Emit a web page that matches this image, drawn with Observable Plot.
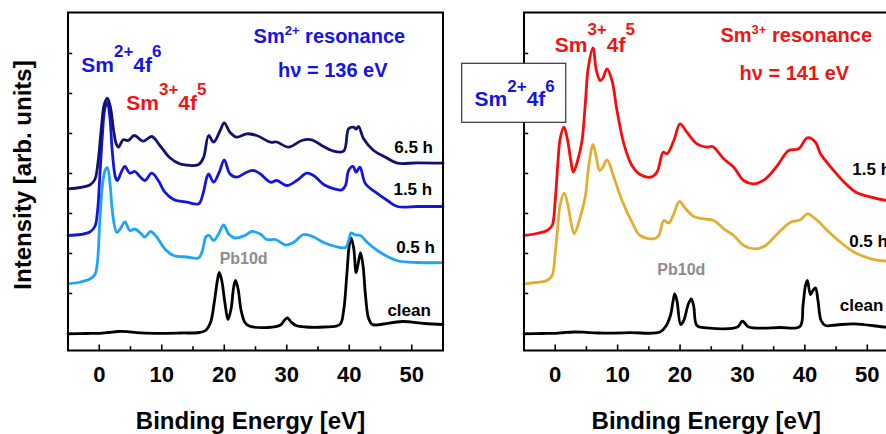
<!DOCTYPE html>
<html>
<head>
<meta charset="utf-8">
<script src="https://cdn.jsdelivr.net/npm/d3@7"></script>
<script src="https://cdn.jsdelivr.net/npm/@observablehq/plot@0.6"></script>
<style>
  body { margin: 0; overflow: hidden; background: #fff; }
  #fig { position: relative; width: 886px; height: 434px; overflow: hidden;
         font-family: "Liberation Sans", Arial, sans-serif; }
  #fig svg { position: absolute; top: 0; }
</style>
</head>
<body>
<div id="fig"></div>
<script>
// Valence-band photoemission of Sm on Pb: binding energy [eV] vs intensity (arb. units, stacked)
const xDomain = [-5, 55];
const yDomain = [0, 33.8];
const xMajor = [0, 10, 20, 30, 40, 50];
const xMinor = [5, 15, 25, 35, 45];
const yTicks = [1.7, 5.7, 9.7, 13.7, 17.7, 21.7, 25.7, 29.7];

// Sm2+ resonance, hv = 136 eV
const left_clean = [[-5,1.67],[-2,1.7],[0,1.72],[1.5,1.8],[3,1.9],[4.5,1.88],[6,1.78],[9,1.72],[13,1.75],[16,1.8],[17,2.0],[17.8,2.8],[18.4,4.8],[18.9,7.0],[19.2,7.8],[19.6,7.0],[20.1,4.8],[20.6,3.1],[21.1,4.2],[21.5,6.3],[21.8,7.0],[22.2,6.2],[22.7,4.0],[23.3,2.8],[24,2.45],[27,2.3],[29,2.55],[29.6,3.0],[30.1,3.25],[30.7,2.85],[31.5,2.5],[33,2.35],[36,2.35],[38.5,2.6],[39.1,4.0],[39.6,7.5],[40.0,10.5],[40.3,11.25],[40.7,10.3],[41.1,7.8],[41.4,8.6],[41.8,9.75],[42.2,8.5],[42.6,5.5],[43.1,3.2],[43.7,2.6],[45,2.6],[48.5,2.9],[52,2.7],[55,2.6]];
const left_05h = [[-5,6.67],[-3,6.85],[-1.5,7.15],[-0.7,7.6],[-0.3,8.8],[0.1,13.0],[0.6,17.0],[1.0,18.1],[1.3,18.3],[1.7,16.8],[2.2,13.4],[2.8,11.8],[3.4,12.2],[4.1,12.85],[4.9,12.0],[5.7,12.15],[6.5,11.8],[7.3,11.35],[8.2,11.9],[9.2,11.35],[10.5,10.15],[11.9,9.5],[14.0,9.35],[15.9,9.25],[16.5,10.0],[17.1,11.4],[17.6,11.5],[18.3,11.0],[19.1,11.65],[19.9,12.55],[20.7,11.65],[21.7,11.25],[23.3,11.5],[24.4,11.9],[25.75,11.65],[26.8,11.1],[28.2,11.1],[29.8,10.55],[31.1,10.8],[32.7,11.6],[34.3,11.35],[35.9,10.8],[37.5,10.45],[39.4,10.3],[39.9,11.0],[40.3,11.75],[41.0,11.55],[41.8,11.5],[42.9,10.8],[44.5,10.0],[46.1,9.4],[47.9,8.95],[50.9,8.8],[55,8.78]];
const left_15h = [[-5,11.5],[-3,11.6],[-1.5,11.85],[-0.7,12.4],[-0.3,13.8],[0.1,17.5],[0.5,21.5],[0.9,24.2],[1.3,24.8],[1.7,23.3],[2.1,19.8],[2.6,17.3],[2.9,17.0],[3.5,17.8],[4.1,18.4],[4.9,17.73],[5.7,17.9],[6.5,17.4],[7.3,17.0],[8.4,17.73],[9.45,17.0],[10.5,15.83],[11.9,15.1],[14.0,14.83],[15.9,14.67],[16.6,15.67],[17.2,17.3],[17.5,17.67],[18.3,16.83],[19.2,17.83],[20.0,19.07],[20.9,17.67],[22.0,17.33],[23.6,17.83],[24.7,18.0],[25.75,17.67],[27.4,16.83],[28.4,17.0],[30.0,16.5],[31.6,17.0],[33.2,17.73],[34.3,17.5],[36.2,16.5],[38.8,16.07],[39.4,16.5],[39.9,18.0],[40.6,18.4],[41.1,17.83],[41.7,18.33],[42.6,16.67],[44.2,15.83],[46.1,15.0],[47.7,14.4],[50.9,14.4],[55,14.4]];
const left_65h = [[-5,16.17],[-3,16.3],[-1.5,16.55],[-0.7,17.1],[-0.2,18.8],[0.3,22.0],[0.8,24.6],[1.3,25.23],[1.8,24.3],[2.3,22.0],[2.7,20.7],[3.05,20.33],[3.85,21.07],[4.65,21.0],[5.6,21.5],[7.05,20.93],[8.4,21.4],[9.7,20.5],[11.3,19.27],[12.9,18.67],[15.9,18.6],[16.7,19.33],[17.5,21.5],[18.3,20.83],[19.35,22.0],[20.0,22.77],[20.9,21.83],[22.0,21.33],[23.6,21.67],[25.2,21.5],[27.4,20.83],[28.4,20.85],[30.3,20.33],[32.4,21.0],[34.0,21.07],[35.6,20.5],[37.2,20.0],[39.1,19.93],[39.9,22.17],[40.7,22.33],[41.1,22.15],[41.5,22.4],[42.3,21.17],[43.9,20.0],[45.8,19.33],[47.7,18.73],[50.9,18.77],[55,18.73]];

// Sm3+ resonance, hv = 141 eV
const right_clean = [[-5,1.67],[-2,1.7],[0,1.72],[1.5,1.8],[3,1.85],[4.5,1.83],[7,1.75],[12,1.78],[16.8,1.85],[17.8,2.5],[18.5,3.6],[18.9,5.0],[19.15,5.67],[19.5,5.0],[20.1,2.6],[20.6,3.0],[21.3,4.6],[21.8,5.17],[22.2,4.4],[22.7,2.5],[24.3,2.27],[29.2,2.35],[30.0,2.93],[31.0,2.35],[36,2.3],[39.2,2.4],[39.7,4.5],[40.1,6.5],[40.4,7.0],[40.9,5.6],[41.3,6.0],[41.7,6.27],[42.1,5.0],[42.6,3.0],[43.3,2.5],[45,2.55],[47.9,2.67],[53.1,2.33],[55,2.3]];
const right_05h = [[-5,6.67],[-3,6.8],[-1.3,7.0],[-0.5,7.5],[0,9.67],[0.4,12.3],[0.8,14.6],[1.44,15.73],[2.1,14.33],[2.6,12.6],[3.05,11.67],[4.0,13.33],[4.8,15.33],[5.35,18.33],[6.05,20.6],[6.6,19.3],[7.1,18.0],[7.6,18.3],[8.3,19.07],[9.4,17.33],[10.7,15.0],[12.3,12.83],[13.6,11.5],[15.8,11.17],[16.6,11.5],[17.4,13.0],[18.2,12.73],[19.0,13.67],[19.9,14.9],[20.9,14.17],[22.2,13.4],[23.8,13.17],[25.4,13.0],[27.0,12.17],[28.6,11.5],[30.2,10.5],[32.1,10.17],[33.7,10.5],[35.6,11.67],[37.7,12.83],[39.3,13.07],[40.4,13.67],[42.0,13.0],[43.6,12.0],[45.7,10.83],[47.9,9.83],[50.6,9.17],[53.1,8.93],[55,8.85]];
const right_15h = [[-5,11.5],[-3,11.7],[-1.3,12.0],[-0.5,12.5],[0,15.0],[0.4,18.5],[0.8,21.2],[1.4,22.33],[1.9,21.3],[2.5,19.0],[2.9,17.83],[3.6,19.0],[4.3,21.0],[4.8,24.5],[5.3,28.3],[6.05,30.27],[6.6,28.0],[7.2,27.0],[7.6,27.2],[8.3,28.17],[9.1,27.0],[9.9,24.0],[11.0,20.67],[12.3,18.5],[13.6,17.6],[15.25,17.33],[16.3,17.83],[17.3,19.83],[17.9,19.67],[19.0,21.0],[20.0,22.67],[21.1,21.83],[22.7,20.67],[24.3,20.33],[25.2,20.4],[27.0,19.17],[28.6,18.33],[30.2,17.0],[31.8,16.67],[33.7,17.17],[35.6,18.5],[37.4,20.0],[39.0,20.17],[40.4,21.27],[41.7,20.83],[42.5,19.67],[44.4,18.17],[46.3,16.83],[48.2,15.83],[50.6,15.33],[53.1,15.0],[55,14.9]];

// Curve labels: [x, y baseline, text]
const leftLabels = [[47.2, 19.8, "6.5 h"], [47.07, 15.6, "1.5 h"], [47.5, 9.8, "0.5 h"], [46.1, 3.5, "clean"]];
const rightLabels = [[47.6, 17.6, "1.5 h"], [47.1, 10.4, "0.5 h"], [45.6, 4.0, "clean"]];

const BLUE = "#1414e6", RED = "#f01414";
const FONT = "'Liberation Sans', Arial, sans-serif";

function panel({series, labels, width, marginLeft, marginRight, pb, yTitle}) {
  const marks = [
    Plot.ruleX(xMajor, {y1: yDomain[0], y2: yDomain[0] + 0.55, stroke: "black", strokeWidth: 1.6}),
    Plot.ruleX(xMinor, {y1: yDomain[0], y2: yDomain[0] + 0.38, stroke: "black", strokeWidth: 1.6}),
    Plot.ruleY(yTicks, {x1: xDomain[0], x2: xDomain[0] + 0.75, stroke: "black", strokeWidth: 1.6}),
    ...series.map(s => Plot.line(s.data, {x: d => d[0], y: d => d[1], stroke: s.color, strokeWidth: 2.8, curve: "catmull-rom"})),
    Plot.frame({stroke: "black", strokeWidth: 2}),
    Plot.axisX({ticks: xMajor, tickSize: 0, tickPadding: 16, fontSize: 22, fontWeight: "bold", fill: "black", label: null}),
    Plot.text(["Binding Energy [eV]"], {frameAnchor: "bottom", lineAnchor: "bottom", dy: 78, dx: -5, fontSize: 24, fontWeight: "bold", fill: "black"}),
    Plot.text(labels, {x: d => d[0], y: d => d[1], text: d => d[2], textAnchor: "start", lineAnchor: "bottom", fontSize: 17, fontWeight: "bold", fill: "black"}),
    Plot.text(["Pb10d"], {x: pb[0], y: pb[1], lineAnchor: "bottom", fontSize: 16, fontWeight: "bold", fill: "#8c8c8c"})
  ];
  if (yTitle) {
    marks.push(Plot.text([yTitle], {frameAnchor: "left", textAnchor: "middle", lineAnchor: "middle", rotate: -90, dx: -44.5, dy: -6.5, fontSize: 24, fontWeight: "bold", fill: "black"}));
  }
  return Plot.plot({
    width, height: 434,
    marginLeft, marginRight, marginTop: 12, marginBottom: 84,
    x: {domain: xDomain},
    y: {domain: yDomain, axis: null},
    style: {fontFamily: FONT, background: "transparent", overflow: "visible"},
    marks
  });
}

// Text with superscript runs, anchored on a baseline in data coordinates
function rich(plot, x, y, parts, {size, supSize, rise, fill, anchor = "start"}) {
  const sx = plot.scale("x"), sy = plot.scale("y");
  const t = d3.select(plot).append("text")
    .attr("x", sx.apply(x)).attr("y", sy.apply(y))
    .attr("text-anchor", anchor)
    .attr("font-family", FONT).attr("font-weight", "bold")
    .attr("font-size", size).attr("fill", fill);
  let up = false;
  parts.forEach(p => {
    const sup = typeof p !== "string";
    const txt = sup ? p.sup : p;
    const ts = t.append("tspan").text(txt).attr("font-size", sup ? supSize : size);
    if (sup && !up) { ts.attr("dy", -rise); up = true; }
    else if (!sup && up) { ts.attr("dy", rise); up = false; }
  });
  return t;
}

const fig = document.getElementById("fig");

const left = panel({
  series: [
    {data: left_clean, color: "#000000"},
    {data: left_05h, color: "#1ea5f5"},
    {data: left_15h, color: "#1414dc"},
    {data: left_65h, color: "#12126e"}
  ],
  labels: leftLabels, width: 455, marginLeft: 67.5, marginRight: 12.5,
  pb: [23.1, 8.7], yTitle: "Intensity [arb. units]"
});
left.style.left = "0px";
fig.appendChild(left);

rich(left, 36.9, 30.7, ["Sm", {sup: "2+"}, " resonance"], {size: 20, supSize: 13, rise: 8, fill: BLUE, anchor: "middle"});
rich(left, 37.45, 27.3, ["hν = 136 eV"], {size: 20, supSize: 13, rise: 8, fill: BLUE, anchor: "middle"});
rich(left, -2.8, 27.83, ["Sm", {sup: "2+"}, "4f", {sup: "6"}], {size: 21, supSize: 17, rise: 14.5, fill: BLUE});
rich(left, 4.4, 24.0, ["Sm", {sup: "3+"}, "4f", {sup: "5"}], {size: 21, supSize: 17, rise: 15.5, fill: RED});

const right = panel({
  series: [
    {data: right_clean, color: "#000000"},
    {data: right_05h, color: "#e2ae32"},
    {data: right_15h, color: "#fa0a0a"}
  ],
  labels: rightLabels, width: 450, marginLeft: 73.5, marginRight: 2,
  pb: [20.2, 7.6], yTitle: null
});
right.style.left = "450px";
fig.appendChild(right);

rich(right, 38.7, 30.83, ["Sm", {sup: "3+"}, " resonance"], {size: 20, supSize: 13, rise: 8, fill: RED, anchor: "middle"});
rich(right, 38.4, 27.0, ["hν = 141 eV"], {size: 20, supSize: 13, rise: 8, fill: RED, anchor: "middle"});
rich(right, 0, 29.83, ["Sm", {sup: "3+"}, "4f", {sup: "5"}], {size: 21, supSize: 17, rise: 16.5, fill: RED});

// Boxed Sm2+ 4f6 marker straddling the panel edge
{
  const sx = right.scale("x"), sy = right.scale("y");
  const x0 = sx.apply(-14.9), x1 = sx.apply(1.77), y0 = sy.apply(28.67), y1 = sy.apply(22.77);
  d3.select(right).append("rect")
    .attr("x", x0).attr("y", y0).attr("width", x1 - x0).attr("height", y1 - y0)
    .attr("fill", "white").attr("stroke", "#333").attr("stroke-width", 1.2);
  rich(right, -12.84, 24.4, ["Sm", {sup: "2+"}, "4f", {sup: "6"}], {size: 21, supSize: 17, rise: 14.5, fill: BLUE});
}
</script>
</body>
</html>
